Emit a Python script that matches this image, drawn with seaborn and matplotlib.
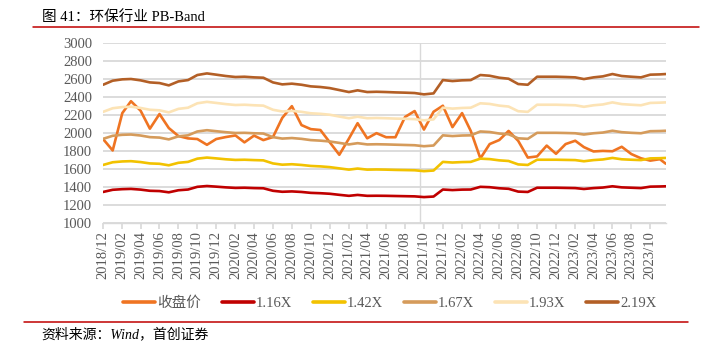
import pandas as pd
import matplotlib
matplotlib.use("Agg")
import matplotlib.pyplot as plt
import matplotlib.dates as mdates
from matplotlib.lines import Line2D
import seaborn as sns

# x values: month points from 2018/12, last point is a mid-month date
dates = list(pd.date_range("2018-12-01", "2023-11-01", freq="MS")) + [pd.Timestamp("2023-11-20")]

series_names = ["收盘价", "1.16X", "1.42X", "1.67X", "1.93X", "2.19X"]
series_colors = ["#EF7422", "#C00000", "#F2C200", "#D59B5B", "#FCE3B5", "#B35F26"]

close = [1930, 1803, 2218, 2350, 2245, 2045, 2208, 2052, 1963, 1937,
         1930, 1866, 1930, 1952, 1970, 1893, 1968, 1918, 1952, 2165,
         2295, 2085, 2040, 2030, 1895, 1755, 1935, 2106, 1938, 1995,
         1950, 1950, 2175, 2241, 2035, 2233, 2300, 2062, 2218, 2020,
         1715, 1874, 1919, 2020, 1910, 1724, 1737, 1857, 1766, 1874,
         1911, 1840, 1792, 1798, 1794, 1844, 1763, 1716, 1690, 1706, 1656]
pb_116 = [1342, 1366, 1373, 1376, 1368, 1355, 1352, 1338, 1361, 1369,
          1399, 1408, 1401, 1393, 1387, 1389, 1385, 1383, 1355, 1344,
          1348, 1342, 1332, 1328, 1322, 1310, 1299, 1309, 1299, 1300,
          1299, 1297, 1295, 1293, 1285, 1291, 1369, 1363, 1368, 1369,
          1399, 1395, 1383, 1377, 1346, 1342, 1389, 1389, 1389, 1387,
          1385, 1375, 1385, 1391, 1405, 1393, 1389, 1385, 1401, 1403, 1405]
pb_142 = [1642, 1672, 1681, 1684, 1674, 1659, 1655, 1638, 1666, 1676,
          1712, 1724, 1715, 1705, 1698, 1700, 1696, 1693, 1659, 1645,
          1650, 1642, 1631, 1626, 1618, 1604, 1590, 1602, 1590, 1592,
          1590, 1587, 1585, 1583, 1573, 1580, 1676, 1669, 1674, 1676,
          1712, 1707, 1693, 1686, 1648, 1642, 1700, 1700, 1700, 1698,
          1696, 1683, 1696, 1703, 1720, 1705, 1700, 1696, 1715, 1717, 1720]
pb_167 = [1932, 1966, 1977, 1980, 1969, 1951, 1946, 1926, 1960, 1971,
          2014, 2028, 2017, 2006, 1997, 1999, 1994, 1991, 1951, 1935,
          1941, 1932, 1918, 1912, 1903, 1887, 1870, 1884, 1870, 1872,
          1870, 1867, 1864, 1861, 1850, 1858, 1971, 1963, 1969, 1971,
          2014, 2008, 1991, 1983, 1938, 1932, 1999, 1999, 1999, 1997,
          1994, 1980, 1994, 2002, 2022, 2006, 1999, 1994, 2017, 2019, 2022]
pb_193 = [2232, 2272, 2285, 2289, 2275, 2255, 2249, 2226, 2265, 2278,
          2327, 2343, 2331, 2318, 2308, 2311, 2305, 2301, 2255, 2236,
          2243, 2232, 2216, 2210, 2200, 2180, 2161, 2178, 2161, 2164,
          2161, 2157, 2155, 2151, 2138, 2148, 2278, 2268, 2275, 2278,
          2327, 2320, 2301, 2291, 2239, 2232, 2311, 2311, 2311, 2308,
          2305, 2288, 2305, 2314, 2337, 2318, 2311, 2305, 2331, 2334, 2337]
pb_219 = [2533, 2578, 2593, 2597, 2582, 2559, 2552, 2526, 2570, 2585,
          2641, 2659, 2645, 2630, 2619, 2622, 2615, 2611, 2559, 2537,
          2545, 2533, 2515, 2508, 2496, 2474, 2452, 2471, 2452, 2455,
          2452, 2448, 2445, 2441, 2426, 2437, 2585, 2574, 2582, 2585,
          2641, 2633, 2611, 2600, 2541, 2533, 2622, 2622, 2622, 2619,
          2615, 2596, 2615, 2626, 2652, 2630, 2622, 2615, 2645, 2648, 2652]

y_ticks = list(range(1000, 3001, 200))
marker_date = pd.Timestamp("2021-09-19")

# Long-form table for seaborn
df = pd.DataFrame({"date": dates, "收盘价": close, "1.16X": pb_116, "1.42X": pb_142,
                   "1.67X": pb_167, "1.93X": pb_193, "2.19X": pb_219})
df_long = df.melt(id_vars="date", var_name="series", value_name="value")

sns.set_theme(style="white")
plt.rcParams["font.family"] = ["Liberation Serif", "Noto Sans CJK SC", "DejaVu Sans"]
grey = "#595959"

fig = plt.figure(figsize=(7.06, 3.53), dpi=100)
ax = fig.add_axes([0.146, 0.369, 0.797, 0.510])

ax.axvline(marker_date, color="#D9D9D9", linewidth=1.0, zorder=0)
sns.lineplot(data=df_long, x="date", y="value", hue="series", hue_order=series_names,
             palette=dict(zip(series_names, series_colors)), linewidth=1.9, ax=ax)

# Axes styling
ax.set_ylim(1000, 3000)
ax.set_yticks(y_ticks)
ax.set_xlim(dates[0], dates[-1])
ax.xaxis.set_major_locator(mdates.MonthLocator(bymonth=[2, 4, 6, 8, 10, 12]))
ax.xaxis.set_major_formatter(mdates.DateFormatter("%Y/%m"))
ax.set_xlabel("")
ax.set_ylabel("")
ax.grid(axis="y", color="#D9D9D9", linewidth=1.3)
ax.set_axisbelow(True)
for s in ["top", "right", "left"]:
    ax.spines[s].set_visible(False)
ax.spines["bottom"].set_color("#D9D9D9")
ax.spines["bottom"].set_linewidth(1.0)
ax.tick_params(axis="x", which="major", bottom=True, direction="out", length=4,
               color="#D9D9D9", labelsize=10.5, labelcolor=grey, rotation=90, pad=2)
ax.tick_params(axis="y", left=False, length=0, labelsize=10.5, labelcolor=grey, pad=8)

# Legend below the plot
ax.get_legend().remove()
handles = [Line2D([0], [0], color=c, linewidth=2.6) for c in series_colors]
fig.legend(handles, series_names, loc="center", bbox_to_anchor=(0.552, 0.142), ncol=6,
           frameon=False, fontsize=10.5, handlelength=2.2, handletextpad=0.15,
           columnspacing=1.4, labelcolor=grey)

# Title, rules and source
fig.text(0.059, 0.953, "图 41：环保行业 PB-Band", fontsize=10.5, va="center", ha="left", color="black")
fig.add_artist(Line2D([0.047, 0.99], [0.923, 0.923], color="#C00000", linewidth=1.1))
fig.add_artist(Line2D([0.034, 0.975], [0.088, 0.088], color="#C00000", linewidth=1.1))
fig.text(0.059, 0.054, "资料来源：Wind，首创证券", fontsize=10, style="italic",
         va="center", ha="left", color="black")

fig.savefig("out.png", dpi=100)
